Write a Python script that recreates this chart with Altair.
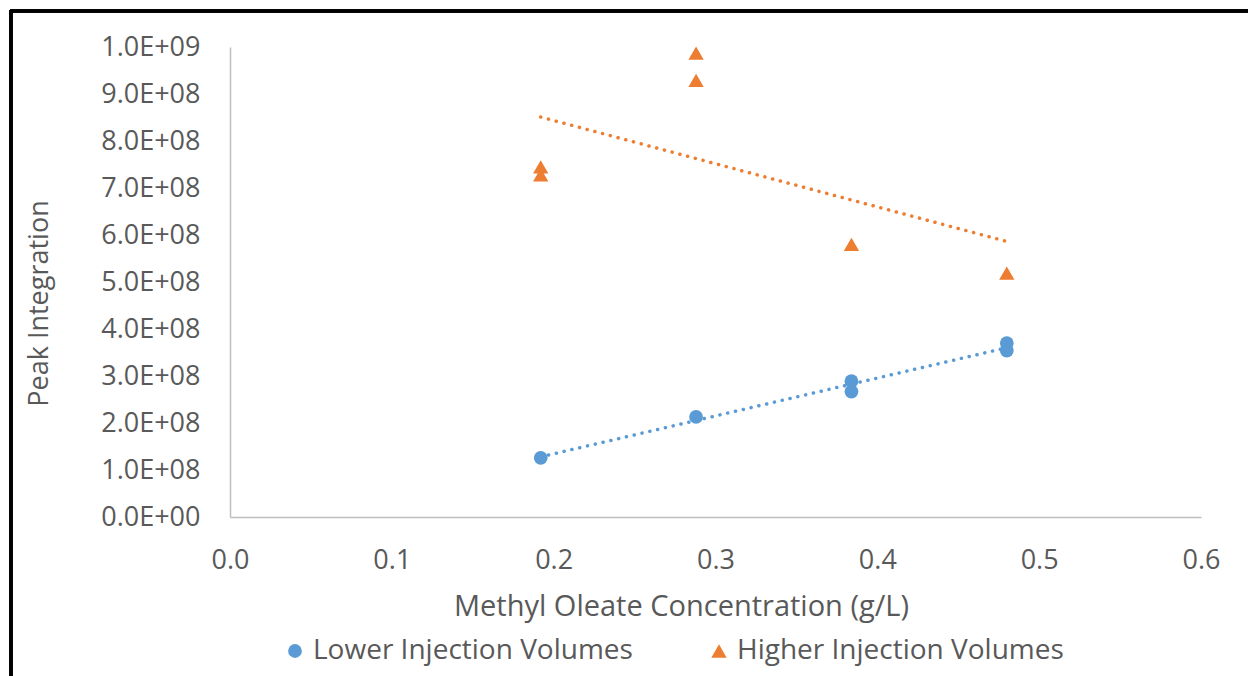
import altair as alt
import pandas as pd

# ---- data ----
lower_x = [0.192, 0.288, 0.384, 0.384, 0.48, 0.48]
lower_y = [1.26e8, 2.13e8, 2.89e8, 2.67e8, 3.70e8, 3.54e8]
higher_x = [0.192, 0.192, 0.288, 0.288, 0.384, 0.48]
higher_y = [7.45e8, 7.28e8, 9.87e8, 9.29e8, 5.80e8, 5.19e8]

series_names = ["Lower Injection Volumes", "Higher Injection Volumes"]
series_colors = ["#5B9BD5", "#ED7D31"]
series_shapes = ["circle", "triangle-up"]
series_sizes = [190, 235]

x_ticks = [0.0, 0.1, 0.2, 0.3, 0.4, 0.5, 0.6]
y_ticks = [0, 1e8, 2e8, 3e8, 4e8, 5e8, 6e8, 7e8, 8e8, 9e8, 1e9]

x_title = "Methyl Oleate Concentration (g/L)"
y_title = "Peak Integration"

df = pd.DataFrame({
    "x": lower_x + higher_x,
    "y": lower_y + higher_y,
    "series": [series_names[0]] * len(lower_x) + [series_names[1]] * len(higher_x),
})

FONT = "Open Sans"
GRAY = "#595959"
AXIS = "#BFBFBF"

color_scale = alt.Scale(domain=series_names, range=series_colors)
shape_scale = alt.Scale(domain=series_names, range=series_shapes)
size_scale = alt.Scale(domain=series_names, range=series_sizes)

x_enc = alt.X(
    "x:Q",
    scale=alt.Scale(domain=[0, 0.6], nice=False, zero=False),
    axis=alt.Axis(
        values=x_ticks, format=".1f", title=x_title, grid=False, ticks=False,
        domainColor=AXIS, domainWidth=1.5,
        labelFont=FONT, labelFontSize=27, labelColor=GRAY, labelPadding=30,
        labelFlush=False,
        titleFont=FONT, titleFontSize=29, titleColor=GRAY, titleFontWeight="normal",
        titleX=451, titleY=98, titleAnchor="middle", titleAlign="center",
        titleBaseline="alphabetic",
    ),
)
y_enc = alt.Y(
    "y:Q",
    scale=alt.Scale(domain=[0, 1e9], nice=False),
    axis=alt.Axis(
        values=y_ticks, title=y_title, grid=False, ticks=False,
        labelExpr=(
            "datum.value == 0 ? '0.0E+00' : "
            "format(datum.value / pow(10, floor(log(datum.value)/LN10 + 1e-9)), '.1f')"
            " + 'E+' + format(floor(log(datum.value)/LN10 + 1e-9), '02d')"
        ),
        domainColor=AXIS, domainWidth=1.5,
        labelFont=FONT, labelFontSize=27, labelColor=GRAY, labelPadding=30,
        labelFlush=False,
        titleFont=FONT, titleFontSize=27, titleColor=GRAY, titleFontWeight="normal",
        titleAngle=270, titleX=-183, titleY=256, titleAlign="center",
        titleBaseline="alphabetic",
    ),
)

legend = alt.Legend(
    orient="none", legendX=51, legendY=590, direction="horizontal", title=None,
    labelFont=FONT, labelFontSize=28, labelColor=GRAY, labelOffset=4,
    labelLimit=600, symbolStrokeWidth=0, symbolOpacity=1, columnPadding=72,
    padding=0,
)

base = alt.Chart(df)

trends = [
    base.transform_filter(alt.datum.series == name)
    .transform_regression("x", "y")
    .mark_line(color=col, strokeDash=[0.1, 7.9], strokeCap="round", strokeWidth=3.5)
    .encode(x=x_enc, y=y_enc)
    for name, col in zip(series_names, series_colors)
]

points = base.mark_point(filled=True, opacity=1, strokeWidth=0).encode(
    x=x_enc, y=y_enc,
    color=alt.Color("series:N", scale=color_scale, legend=legend, sort=series_names),
    shape=alt.Shape("series:N", scale=shape_scale, legend=legend, sort=series_names),
    size=alt.Size("series:N", scale=size_scale, legend=legend, sort=series_names),
)

border_left = alt.Chart(df).mark_rule(color="black", strokeWidth=2.5).encode(
    x=alt.value(-219), y=alt.value(-37), y2=alt.value(640)
)
border_top = alt.Chart(df).mark_rule(color="black", strokeWidth=2.5).encode(
    x=alt.value(-220), x2=alt.value(1030), y=alt.value(-36)
)

chart = alt.layer(*trends, points, border_left, border_top).properties(
    width=971, height=470,
    autosize="none",
    padding={"left": 230, "top": 47, "right": 47, "bottom": 159},
    background="white",
).configure_view(stroke=None)

chart.save("out.html", embed_options={"renderer": "svg", "actions": False})
